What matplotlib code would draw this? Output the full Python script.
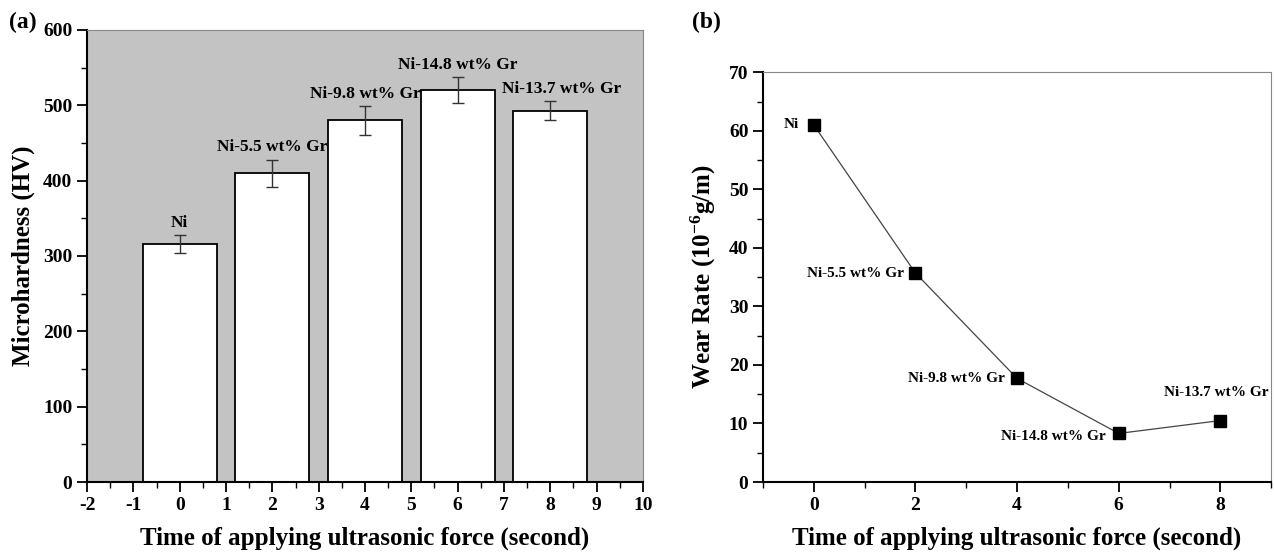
import numpy as np
import matplotlib
matplotlib.use('Agg')
import matplotlib.pyplot as plt
from matplotlib.ticker import MultipleLocator

plt.rcParams['font.family'] = ['Liberation Serif', 'DejaVu Serif']
plt.rcParams['font.weight'] = 'bold'
plt.rcParams['mathtext.fontset'] = 'custom'
plt.rcParams['mathtext.rm'] = 'Liberation Serif:bold'
plt.rcParams['mathtext.default'] = 'rm'
plt.rcParams['axes.unicode_minus'] = False

# data
times = [0, 2, 4, 6, 8]
samples = ['Ni', 'Ni-5.5 wt% Gr', 'Ni-9.8 wt% Gr', 'Ni-14.8 wt% Gr', 'Ni-13.7 wt% Gr']
hardness = [316, 410, 480, 520, 493]
hardness_err = [12, 18, 19, 17, 13]
wear_rate = [61.0, 35.7, 17.7, 8.3, 10.5]

fig = plt.figure(figsize=(12.74, 5.52), dpi=100)
ax1 = fig.add_axes([0.0683, 0.1268, 0.4364, 0.8189])
ax2 = fig.add_axes([0.5989, 0.1268, 0.3989, 0.7422])

tick_font = 14
label_font = 18

# (a) microhardness bars
ax1.set_facecolor('#c3c3c3')
ax1.bar(times, hardness, width=1.6, color='white', edgecolor='black',
        linewidth=1.3, zorder=2)
ax1.errorbar(times, hardness, yerr=hardness_err, fmt='none', ecolor='#333333',
             elinewidth=1.0, capsize=4, capthick=1.0, zorder=3)
label_dx = [0, 0, 0, 0, 8]
for t, h, e, s, dx in zip(times, hardness, hardness_err, samples, label_dx):
    ax1.annotate(s, (t, h + e), xytext=(dx, 3), textcoords='offset points',
                 ha='center', va='bottom', fontsize=12.5, fontweight='bold')
ax1.set_xlim(-2, 10)
ax1.set_ylim(0, 600)
ax1.xaxis.set_major_locator(MultipleLocator(1))
ax1.xaxis.set_minor_locator(MultipleLocator(0.5))
ax1.yaxis.set_major_locator(MultipleLocator(100))
ax1.yaxis.set_minor_locator(MultipleLocator(50))
ax1.set_xlabel('Time of applying ultrasonic force (second)', fontsize=label_font,
               fontweight='bold', labelpad=9)
ax1.set_ylabel('Microhardness (HV)', fontsize=label_font, fontweight='bold',
               labelpad=6)

# (b) wear rate
ax2.plot(times, wear_rate, '-', color='#444444', linewidth=0.9, zorder=2)
ax2.plot(times, wear_rate, 's', color='black', markersize=8, zorder=3)
offsets = [(-11, 0, 'right'), (-8, 0, 'right'), (-9, 0, 'right'),
           (-9, -2, 'right'), (-3, 20, 'center')]
for t, w, s, (dx, dy, ha) in zip(times, wear_rate, samples, offsets):
    ax2.annotate(s, (t, w), xytext=(dx, dy), textcoords='offset points',
                 ha=ha, va='center', fontsize=11, fontweight='bold')
ax2.set_xlim(-1, 9)
ax2.set_ylim(0, 70)
ax2.xaxis.set_major_locator(MultipleLocator(2))
ax2.xaxis.set_minor_locator(MultipleLocator(1))
ax2.yaxis.set_major_locator(MultipleLocator(10))
ax2.yaxis.set_minor_locator(MultipleLocator(5))
ax2.set_xlabel('Time of applying ultrasonic force (second)', fontsize=label_font,
               fontweight='bold', labelpad=9)
ax2.set_ylabel('Wear Rate (10$^{-6}$g/m)', fontsize=label_font,
               fontweight='bold', labelpad=8)

for ax in (ax1, ax2):
    ax.tick_params(which='major', direction='out', length=7, width=1.3,
                   labelsize=tick_font, top=False, right=False)
    ax.tick_params(which='minor', direction='out', length=4, width=1.0,
                   top=False, right=False)
    for lab in ax.get_xticklabels() + ax.get_yticklabels():
        lab.set_fontweight('bold')
    ax.spines['left'].set_linewidth(1.5)
    ax.spines['bottom'].set_linewidth(1.5)
    ax.spines['top'].set_color('#888888')
    ax.spines['right'].set_color('#888888')
    ax.spines['top'].set_linewidth(0.8)
    ax.spines['right'].set_linewidth(0.8)

fig.text(0.007, 0.96, '(a)', fontsize=17, fontweight='bold', va='center')
fig.text(0.543, 0.96, '(b)', fontsize=17, fontweight='bold', va='center')

fig.savefig('out.png', dpi=100)
